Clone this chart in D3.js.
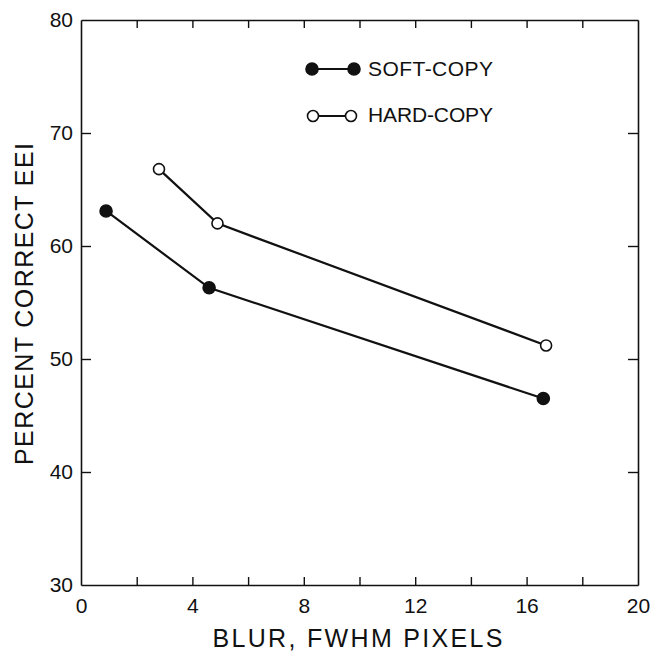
<!DOCTYPE html>
<html>
<head>
<meta charset="utf-8">
<script src="https://cdn.jsdelivr.net/npm/d3@7"></script>
<style>
  html, body { margin: 0; padding: 0; background: #fff; }
  svg { display: block; }
  text { font-family: "Liberation Sans", Arial, sans-serif; fill: #111; }
</style>
</head>
<body>
<svg id="chart" width="654" height="652"></svg>
<script>
// Percent correct EEI against blur (FWHM, pixels)
const softBlur = [0.9, 4.6, 16.6];
const softPercent = [63.1, 56.3, 46.5];
const hardBlur = [2.8, 4.9, 16.7];
const hardPercent = [66.8, 62.0, 51.2];

const xTicks = [0, 2, 4, 6, 8, 10, 12, 14, 16, 18, 20];
const xTickLabels = ["0", "", "4", "", "8", "", "12", "", "16", "", "20"];
const yTicks = [30, 40, 50, 60, 70, 80];
const yTickLabels = ["30", "40", "50", "60", "70", "80"];

const seriesNames = ["SOFT-COPY", "HARD-COPY"];

const svg = d3.select("#chart");
const plotLeft = 81, plotRight = 638, plotTop = 20, plotBottom = 585;

const x = d3.scaleLinear().domain([0, 20]).range([plotLeft, plotRight]);
const y = d3.scaleLinear().domain([30, 80]).range([plotBottom, plotTop]);

const ink = "#111";

function styleAxis(g, fontSize) {
  g.select(".domain").attr("stroke", ink).attr("stroke-width", 1.6);
  g.selectAll(".tick line").attr("stroke", ink).attr("stroke-width", 1.4);
  g.selectAll(".tick text")
    .attr("fill", ink)
    .style("font-family", "'Liberation Sans', Arial, sans-serif")
    .style("font-size", fontSize + "px");
}

// bottom axis with inward ticks and labels every 4
svg.append("g")
  .attr("transform", `translate(0,${plotBottom})`)
  .call(d3.axisBottom(x).tickValues(xTicks)
    .tickFormat((d, i) => xTickLabels[i])
    .tickSizeInner(-8).tickSizeOuter(0).tickPadding(13))
  .call(g => styleAxis(g, 21));

// top axis, ticks only
svg.append("g")
  .attr("transform", `translate(0,${plotTop})`)
  .call(d3.axisTop(x).tickValues(xTicks).tickFormat("")
    .tickSizeInner(-8).tickSizeOuter(0))
  .call(g => styleAxis(g, 21));

// left axis with labels
svg.append("g")
  .attr("transform", `translate(${plotLeft},0)`)
  .call(d3.axisLeft(y).tickValues(yTicks)
    .tickFormat((d, i) => yTickLabels[i])
    .tickSizeInner(-10).tickSizeOuter(0).tickPadding(8))
  .call(g => styleAxis(g, 21));

// right axis, ticks only
svg.append("g")
  .attr("transform", `translate(${plotRight},0)`)
  .call(d3.axisRight(y).tickValues(yTicks).tickFormat("")
    .tickSizeInner(-10).tickSizeOuter(0))
  .call(g => styleAxis(g, 21));

// hide ticks that sit on the corners
svg.selectAll(".tick").filter(d => d === 0 || d === 20 || d === 30 || d === 80)
  .select("line").attr("stroke", "none");

// axis titles
svg.append("text")
  .attr("x", (plotLeft + plotRight) / 2 - 2)
  .attr("y", 647)
  .attr("text-anchor", "middle")
  .attr("textLength", 290)
  .attr("lengthAdjust", "spacing")
  .style("font-size", "25px")
  .text("BLUR, FWHM PIXELS");

svg.append("text")
  .attr("transform", `translate(33,304) rotate(-90)`)
  .attr("text-anchor", "middle")
  .attr("textLength", 322)
  .attr("lengthAdjust", "spacing")
  .style("font-size", "25px")
  .text("PERCENT CORRECT EEI");

// data series
const series = [
  { blur: softBlur, pct: softPercent, fill: ink },
  { blur: hardBlur, pct: hardPercent, fill: "#fff" }
];

const line = d3.line().x(d => x(d[0])).y(d => y(d[1]));

series.forEach(s => {
  const pts = s.blur.map((b, i) => [b, s.pct[i]]);
  svg.append("path")
    .attr("d", line(pts))
    .attr("fill", "none")
    .attr("stroke", ink)
    .attr("stroke-width", 2.2);
  svg.selectAll(null).data(pts).enter().append("circle")
    .attr("cx", d => x(d[0]))
    .attr("cy", d => y(d[1]))
    .attr("r", s.fill === ink ? 6 : 5.5)
    .attr("fill", s.fill)
    .attr("stroke", ink)
    .attr("stroke-width", 1.6);
});

// legend
const legendRows = [
  { y: 69, textY: 76, fill: ink, name: seriesNames[0], x1: 312, x2: 354 },
  { y: 116, textY: 122, fill: "#fff", name: seriesNames[1], x1: 313, x2: 351 }
];
legendRows.forEach(r => {
  svg.append("line")
    .attr("x1", r.x1).attr("x2", r.x2)
    .attr("y1", r.y).attr("y2", r.y)
    .attr("stroke", ink).attr("stroke-width", 2);
  [r.x1, r.x2].forEach(cx => {
    svg.append("circle")
      .attr("cx", cx).attr("cy", r.y)
      .attr("r", r.fill === ink ? 6 : 5.5)
      .attr("fill", r.fill)
      .attr("stroke", ink)
      .attr("stroke-width", 1.6);
  });
  svg.append("text")
    .attr("x", 368)
    .attr("y", r.textY)
    .attr("textLength", 125)
    .attr("lengthAdjust", "spacing")
    .style("font-size", "21px")
    .text(r.name);
});
</script>
</body>
</html>
